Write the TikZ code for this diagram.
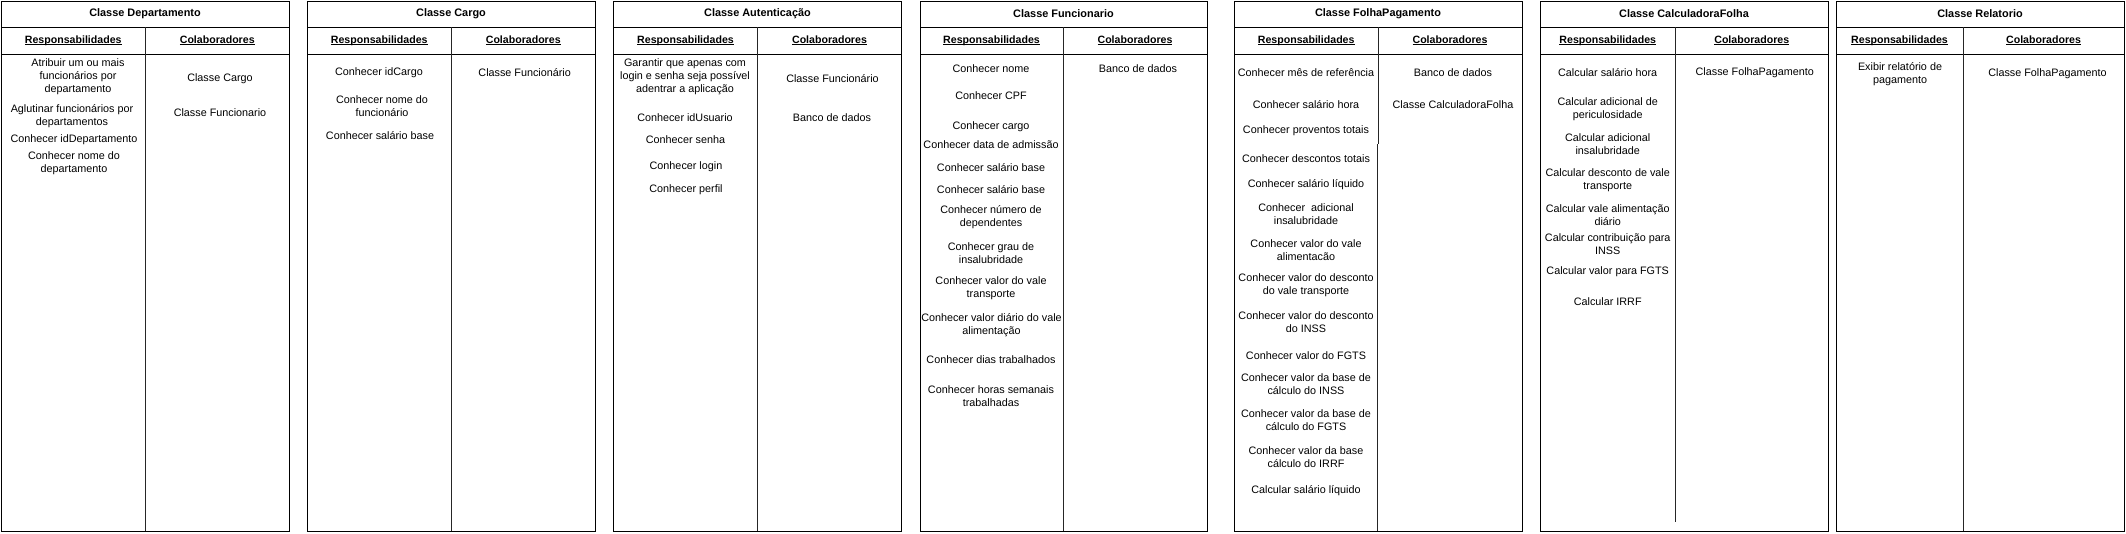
\documentclass[tikz,border=0pt]{standalone}
\usepackage{fontspec}
\setmainfont{Liberation Sans}
\newcommand\ulx[1]{\setbox0\hbox{#1}\rlap{\rule[-1.6pt]{\wd0}{0.7pt}}\box0}
\newcommand\crccard[6]{%
  \draw[cardline] (#2,1) rectangle (#4,531);
  \draw[cardline] (#2,27) -- (#4,27);
  \draw[cardline] (#2,54) -- (#4,54);
  \draw[divline] (#3,27) -- (#3,#6);
  \node[titletext] (#1-title) at ({(#2+#4)/2},14) {#5};
  \node[headtext] (#1-resp) at ({(#2+#3)/2},40.5) {\ulx{Responsabilidades}};
  \node[headtext] (#1-colab) at ({(#3+#4)/2},40.5) {\ulx{Colaboradores}};
}
\tikzset{
  cardline/.style={draw=black, line width=0.9pt},
  divline/.style={draw=black!85, line width=0.9pt},
  titletext/.style={inner sep=0pt, font=\fontsize{10.9}{13}\selectfont\bfseries},
  headtext/.style={inner sep=0pt, font=\fontsize{10.6}{13}\selectfont\bfseries},
  body/.style={inner sep=0pt, align=center, font=\fontsize{10.8}{13}\selectfont},
}
\begin{document}
\begin{tikzpicture}[x=1pt,y=-1pt]
\useasboundingbox[fill=white] (0,0) rectangle (2126,533);
% Card 1
\crccard{dep}{1}{145.5}{289}{Classe Departamento}{531}
\node[body] (dep-r1) at (78,77) {Atribuir um ou mais\\funcionários por\\departamento};
\node[body] (dep-r2) at (72,116) {Aglutinar funcionários por\\departamentos};
\node[body] (dep-r3) at (74,139.5) {Conhecer idDepartamento};
\node[body] (dep-r4) at (74,163.5) {Conhecer nome do\\departamento};
\node[body] (dep-c1) at (220,79) {Classe Cargo};
\node[body] (dep-c2) at (220,113) {Classe Funcionario};
% Card 2
\crccard{car}{307}{451.5}{595}{Classe Cargo}{531}
\node[body] (car-r1) at (379,72.7) {Conhecer idCargo};
\node[body] (car-r2) at (382,106) {Conhecer nome do\\funcionário};
\node[body] (car-r3) at (380,136) {Conhecer salário base};
\node[body] (car-c1) at (524.7,72.7) {Classe Funcionário};
% Card 3
\crccard{aut}{613.5}{757.5}{901.5}{Classe Autenticação}{531}
\node[body] (aut-r1) at (685,77) {Garantir que apenas com\\login e senha seja possível\\adentrar a aplicação};
\node[body] (aut-r2) at (685,117.3) {Conhecer idUsuario};
\node[body] (aut-r3) at (685.5,140) {Conhecer senha};
\node[body] (aut-r4) at (686,166.7) {Conhecer login};
\node[body] (aut-r5) at (686,190) {Conhecer perfil};
\node[body] (aut-c1) at (832.5,78.3) {Classe Funcionário};
\node[body] (aut-c2) at (832,117.3) {Banco de dados};
% Card 4
\crccard{fun}{920}{1063}{1207}{Classe Funcionario}{531}
\node[body] (fun-r1) at (991,69) {Conhecer nome};
\node[body] (fun-r2) at (991,95.7) {Conhecer CPF};
\node[body] (fun-r3) at (991,126.7) {Conhecer cargo};
\node[body] (fun-r4) at (991,145) {Conhecer data de admissão};
\node[body] (fun-r5) at (991,167.3) {Conhecer salário base};
\node[body] (fun-r6) at (991,189.3) {Conhecer salário base};
\node[body] (fun-r7) at (991,217) {Conhecer número de\\dependentes};
\node[body] (fun-r8) at (991,253) {Conhecer grau de\\insalubridade};
\node[body] (fun-r9) at (991,288) {Conhecer valor do vale\\transporte};
\node[body] (fun-r10) at (991.5,325.5) {Conhecer valor diário do vale\\alimentação};
\node[body] (fun-r11) at (991,360) {Conhecer dias trabalhados};
\node[body] (fun-r12) at (991,396) {Conhecer horas semanais\\trabalhadas};
\node[body] (fun-c1) at (1138,69) {Banco de dados};
% Card 5
\draw[cardline] (1234.5,1) rectangle (1522,531);
\draw[cardline] (1234.5,27) -- (1522,27);
\draw[cardline] (1234.5,54) -- (1522,54);
\draw[divline] (1378.7,27) -- (1378.7,144);
\draw[divline] (1377.3,144) -- (1377.3,531);
\node[titletext] (fol-title) at (1378,14) {Classe FolhaPagamento};
\node[headtext] (fol-resp) at (1306.2,40.5) {\ulx{Responsabilidades}};
\node[headtext] (fol-colab) at (1450,40.5) {\ulx{Colaboradores}};
\node[body] (fol-r1) at (1306,72.3) {Conhecer mês de referência};
\node[body] (fol-r2) at (1306,104.3) {Conhecer salário hora};
\node[body] (fol-r3) at (1306,131) {Conhecer proventos totais};
\node[body] (fol-r4) at (1306,158.3) {Conhecer descontos totais};
\node[body] (fol-r5) at (1306,185) {Conhecer salário líquido};
\node[body] (fol-r6) at (1306,213.7) {Conhecer\ \ adicional\\insalubridade};
\node[body] (fol-r7) at (1306,249.7) {Conhecer valor do vale\\alimentacão};
\node[body] (fol-r8) at (1306,285.7) {Conhecer valor do desconto\\do vale transporte};
\node[body] (fol-r9) at (1306,321.7) {Conhecer valor do desconto\\do INSS};
\node[body] (fol-r10) at (1306,356) {Conhecer valor do FGTS};
\node[body] (fol-r11) at (1306,384.5) {Conhecer valor da base de\\cálculo do INSS};
\node[body] (fol-r12) at (1306,420.5) {Conhecer valor da base de\\cálculo do FGTS};
\node[body] (fol-r13) at (1306,456.7) {Conhecer valor da base\\cálculo do IRRF};
\node[body] (fol-r14) at (1306,490.7) {Calcular salário líquido};
\node[body] (fol-c1) at (1453,72.3) {Banco de dados};
\node[body] (fol-c2) at (1453,104.3) {Classe CalculadoraFolha};
% Card 6
\crccard{cal}{1540}{1675.5}{1828}{Classe CalculadoraFolha}{522}
\node[body] (cal-r1) at (1607.7,72.7) {Calcular salário hora};
\node[body] (cal-r2) at (1607.7,109) {Calcular adicional de\\periculosidade};
\node[body] (cal-r3) at (1607.7,144.5) {Calcular adicional\\insalubridade};
\node[body] (cal-r4) at (1607.7,180.3) {Calcular desconto de vale\\transporte};
\node[body] (cal-r5) at (1607.7,215) {Calcular vale alimentação\\diário};
\node[body] (cal-r6) at (1607.7,243.8) {Calcular contribuição para\\INSS};
\node[body] (cal-r7) at (1607.7,271.7) {Calcular valor para FGTS};
\node[body] (cal-r8) at (1607.7,301.7) {Calcular IRRF};
\node[body] (cal-c1) at (1754.8,72.7) {Classe FolhaPagamento};
% Card 7
\crccard{rel}{1836}{1963}{2124}{Classe Relatorio}{531}
\node[body] (rel-r1) at (1900,74) {Exibir relatório de\\pagamento};
\node[body] (rel-c1) at (2047.5,73.3) {Classe FolhaPagamento};
\end{tikzpicture}
\end{document}
